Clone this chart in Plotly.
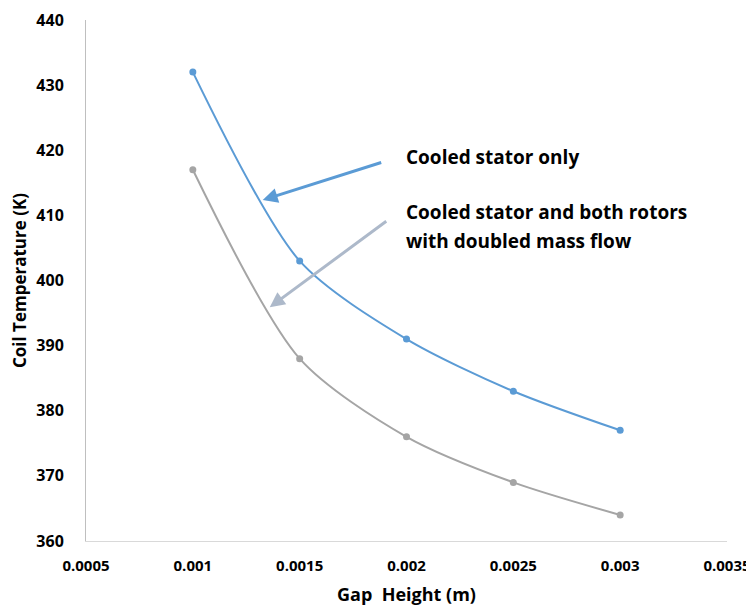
import plotly.graph_objects as go

gap_height = [0.001, 0.0015, 0.002, 0.0025, 0.003]
stator_only = [432, 403, 391, 383, 377]
stator_rotors = [417, 388, 376, 369, 364]
x_ticks = [0.0005, 0.001, 0.0015, 0.002, 0.0025, 0.003, 0.0035]
y_ticks = [360, 370, 380, 390, 400, 410, 420, 430, 440]

BLUE = "#5b9bd5"
GRAY = "#a5a5a5"
FONT = "Open Sans"

fig = go.Figure()
fig.add_trace(go.Scatter(x=gap_height, y=stator_rotors, mode="lines+markers",
                         line=dict(color=GRAY, width=2, shape="spline", smoothing=0.8),
                         marker=dict(color=GRAY, size=7), showlegend=False))
fig.add_trace(go.Scatter(x=gap_height, y=stator_only, mode="lines+markers",
                         line=dict(color=BLUE, width=2, shape="spline", smoothing=0.8),
                         marker=dict(color=BLUE, size=7), showlegend=False))

fig.update_layout(
    width=754, height=609,
    margin=dict(l=78, r=35, t=12, b=76, autoexpand=False),
    plot_bgcolor="white", paper_bgcolor="white",
    font=dict(family=FONT, color="black"),
    xaxis=dict(range=[0.0005, 0.0035], tickvals=x_ticks,
               ticktext=[str(v) for v in x_ticks],
               showgrid=False, zeroline=False, showline=True, linecolor="#d9d9d9",
               linewidth=1, ticks="outside", ticklen=11, tickcolor="rgba(0,0,0,0)",
               tickfont=dict(size=15, family=FONT, weight="bold"),
               title=dict(text="Gap  Height (m)", font=dict(size=18, family=FONT, weight="bold"),
                          standoff=14)),
    yaxis=dict(range=[360, 440], tickvals=y_ticks, showgrid=False, zeroline=False,
               showline=True, linecolor="#bfbfbf", linewidth=1,
               ticks="outside", ticklen=18, tickcolor="rgba(0,0,0,0)",
               tickfont=dict(size=16, family=FONT, weight="bold"),
               title=dict(text="Coil Temperature (K)", font=dict(size=17, family=FONT, weight="bold"),
                          standoff=8)),
)

text_x = 0.00199
fig.add_annotation(x=text_x, y=419.0, xref="x", yref="y", text="<b>Cooled stator only</b>",
                   showarrow=False, xanchor="left", yanchor="middle", align="left",
                   font=dict(size=19, family=FONT, color="black"))
fig.add_annotation(x=text_x, y=410.5, xref="x", yref="y",
                   text="<b>Cooled stator and both rotors</b>",
                   showarrow=False, xanchor="left", yanchor="middle", align="left",
                   font=dict(size=19, family=FONT, color="black"))
fig.add_annotation(x=text_x, y=406.1, xref="x", yref="y",
                   text="<b>with doubled mass flow</b>",
                   showarrow=False, xanchor="left", yanchor="middle", align="left",
                   font=dict(size=19, family=FONT, color="black"))
fig.add_annotation(x=0.001327, y=412.35, xref="x", yref="y", text="", showarrow=True,
                   ax=120, ay=-38, arrowhead=2, arrowsize=1, arrowwidth=3, arrowcolor=BLUE)
fig.add_annotation(x=0.00136, y=395.9, xref="x", yref="y", text="", showarrow=True,
                   ax=118, ay=-87, arrowhead=2, arrowsize=1, arrowwidth=3, arrowcolor="#adb9ca")

fig.write_html("out.html")
